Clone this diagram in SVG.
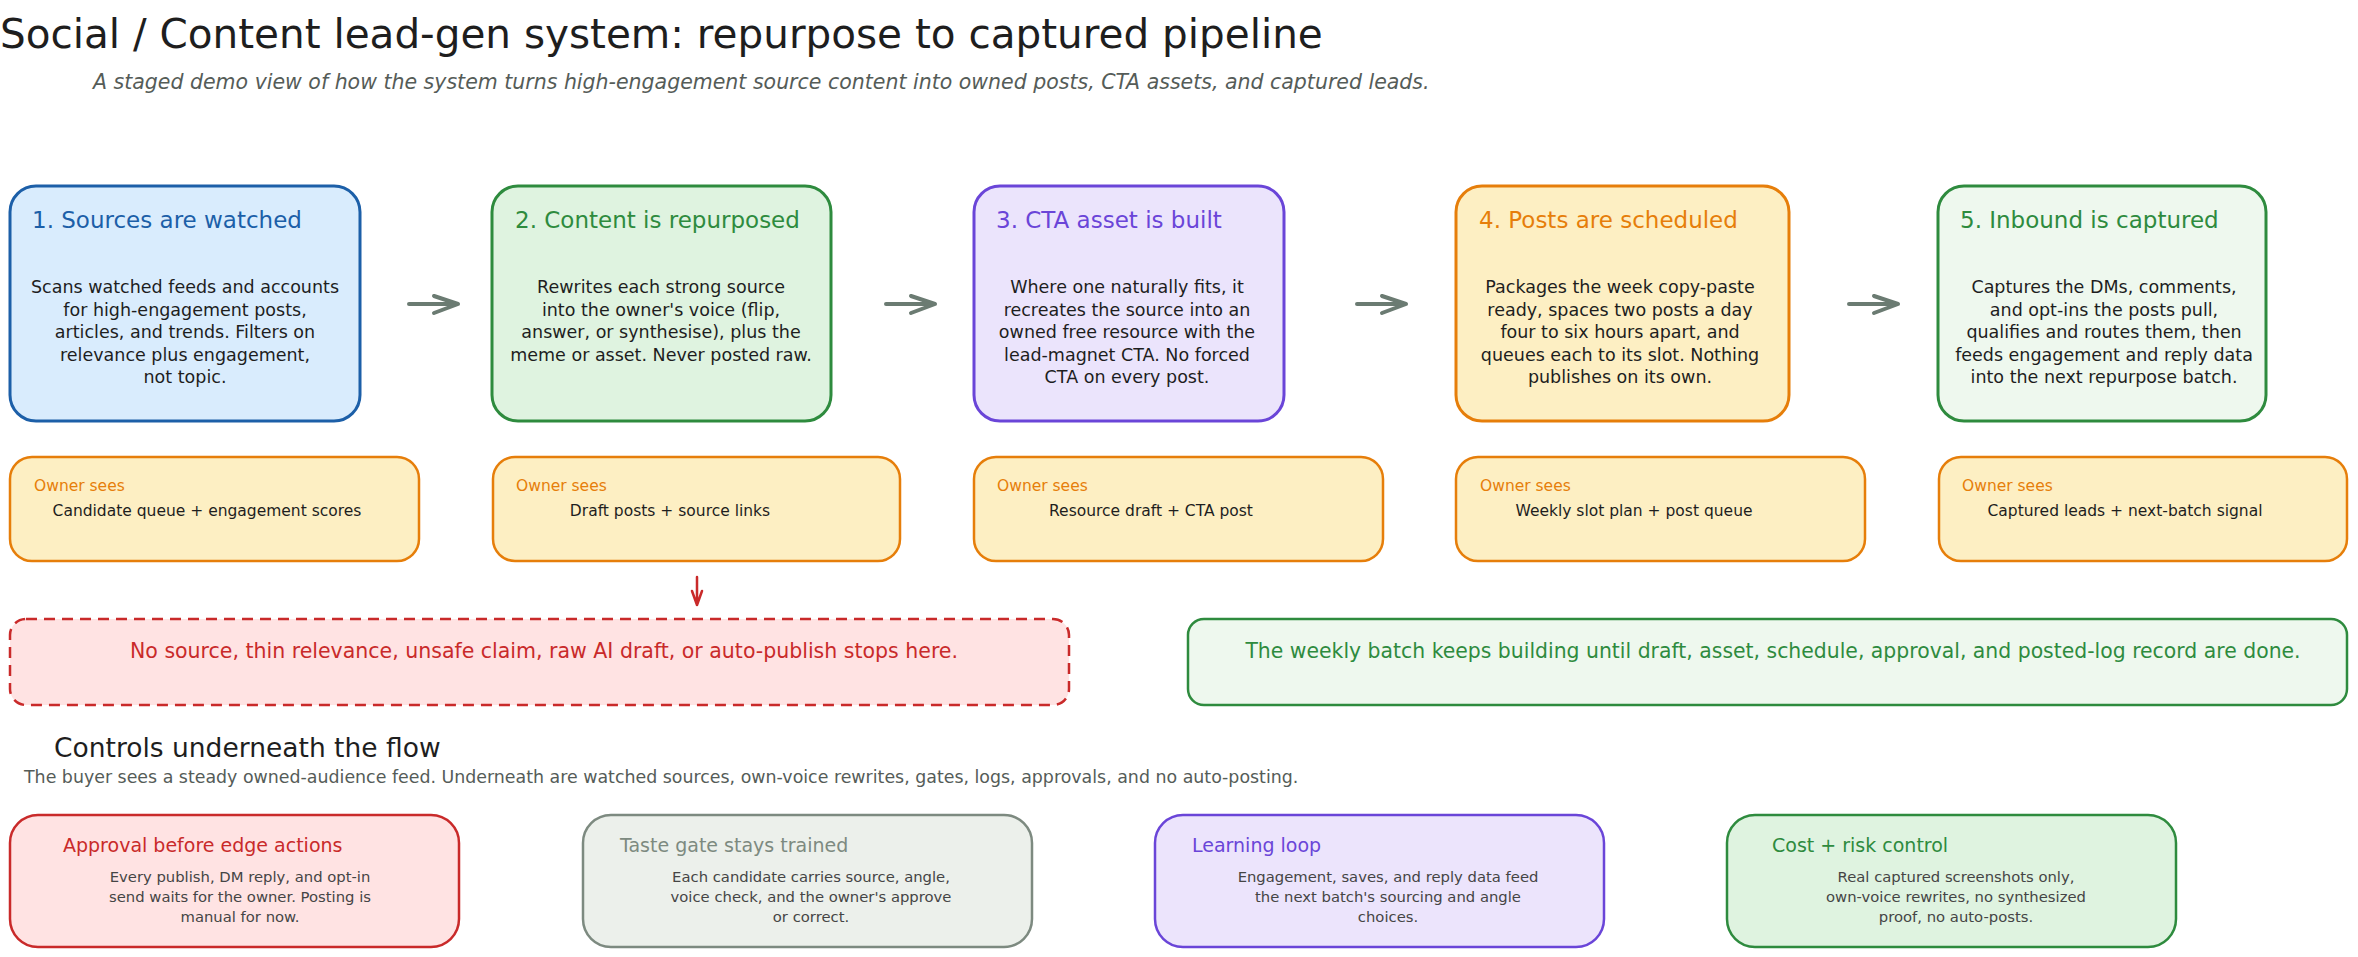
<svg xmlns="http://www.w3.org/2000/svg" width="2358" height="957" viewBox="0 0 2358 957">
<defs>
<style>
text{font-family:"DejaVu Sans","Liberation Sans",sans-serif;}
.title{font-size:40.5px;fill:#1e1e1e;}
.sub{font-size:20.5px;fill:#555c58;font-style:italic;}
.btitle{font-size:23px;}
.body{font-size:17.5px;fill:#1e1e1e;text-anchor:middle;}
.oslabel{font-size:15.5px;fill:#e67e0a;}
.osline{font-size:15.5px;fill:#1e1e1e;text-anchor:middle;}
.main{stroke-width:3;}
.owner{fill:#fdefc3;stroke:#e67e0a;stroke-width:2.5;}
.ctitle{font-size:19px;}
.cbody{font-size:14.8px;fill:#454545;text-anchor:middle;}
.ctl{stroke-width:2.5;}
.flow{stroke:#6b7b72;stroke-width:4;fill:none;stroke-linecap:round;stroke-linejoin:round;}
.stop{stroke:#c92a2a;stroke-width:2.5;fill:none;stroke-linecap:round;stroke-linejoin:round;}
</style>
</defs>
<rect width="2358" height="957" fill="#ffffff"/>

<g id="header">
<text class="title" x="0" y="48">Social / Content lead-gen system: repurpose to captured pipeline</text>
<text class="sub" x="93" y="89">A staged demo view of how the system turns high-engagement source content into owned posts, CTA assets, and captured leads.</text>
</g>

<g id="stage1">
<rect class="main" x="10" y="186" width="350" height="235" rx="26" fill="#d9ecfd" stroke="#1c5fa8"/>
<text class="btitle" x="32" y="228" fill="#1c5fa8">1. Sources are watched</text>
<text class="body" x="185" y="293">Scans watched feeds and accounts</text>
<text class="body" x="185" y="315.6">for high-engagement posts,</text>
<text class="body" x="185" y="338.2">articles, and trends. Filters on</text>
<text class="body" x="185" y="360.8">relevance plus engagement,</text>
<text class="body" x="185" y="383.4">not topic.</text>
</g>

<g id="stage2">
<rect class="main" x="492" y="186" width="339" height="235" rx="26" fill="#dff3e0" stroke="#2e8b3e"/>
<text class="btitle" x="515" y="228" fill="#2e8b3e">2. Content is repurposed</text>
<text class="body" x="661" y="293">Rewrites each strong source</text>
<text class="body" x="661" y="315.6">into the owner's voice (flip,</text>
<text class="body" x="661" y="338.2">answer, or synthesise), plus the</text>
<text class="body" x="661" y="360.8">meme or asset. Never posted raw.</text>
</g>

<g id="stage3">
<rect class="main" x="974" y="186" width="310" height="235" rx="26" fill="#ebe4fc" stroke="#6a45d8"/>
<text class="btitle" x="996" y="228" fill="#6a45d8">3. CTA asset is built</text>
<text class="body" x="1127" y="293">Where one naturally fits, it</text>
<text class="body" x="1127" y="315.6">recreates the source into an</text>
<text class="body" x="1127" y="338.2">owned free resource with the</text>
<text class="body" x="1127" y="360.8">lead-magnet CTA. No forced</text>
<text class="body" x="1127" y="383.4">CTA on every post.</text>
</g>

<g id="stage4">
<rect class="main" x="1456" y="186" width="333" height="235" rx="26" fill="#fdefc3" stroke="#e67e0a"/>
<text class="btitle" x="1479" y="228" fill="#e67e0a">4. Posts are scheduled</text>
<text class="body" x="1620" y="293">Packages the week copy-paste</text>
<text class="body" x="1620" y="315.6">ready, spaces two posts a day</text>
<text class="body" x="1620" y="338.2">four to six hours apart, and</text>
<text class="body" x="1620" y="360.8">queues each to its slot. Nothing</text>
<text class="body" x="1620" y="383.4">publishes on its own.</text>
</g>

<g id="stage5">
<rect class="main" x="1938" y="186" width="328" height="235" rx="26" fill="#eef8ee" stroke="#2e8b3e"/>
<text class="btitle" x="1960" y="228" fill="#2e8b3e">5. Inbound is captured</text>
<text class="body" x="2104" y="293">Captures the DMs, comments,</text>
<text class="body" x="2104" y="315.6">and opt-ins the posts pull,</text>
<text class="body" x="2104" y="338.2">qualifies and routes them, then</text>
<text class="body" x="2104" y="360.8">feeds engagement and reply data</text>
<text class="body" x="2104" y="383.4">into the next repurpose batch.</text>
</g>

<g id="owner1">
<rect class="owner" x="10" y="457" width="409" height="104" rx="22"/>
<text class="oslabel" x="34" y="491">Owner sees</text>
<text class="osline" x="207" y="516">Candidate queue + engagement scores</text>
</g>
<g id="owner2">
<rect class="owner" x="493" y="457" width="407" height="104" rx="22"/>
<text class="oslabel" x="516" y="491">Owner sees</text>
<text class="osline" x="670" y="516">Draft posts + source links</text>
</g>
<g id="owner3">
<rect class="owner" x="974" y="457" width="409" height="104" rx="22"/>
<text class="oslabel" x="997" y="491">Owner sees</text>
<text class="osline" x="1151" y="516">Resource draft + CTA post</text>
</g>
<g id="owner4">
<rect class="owner" x="1456" y="457" width="409" height="104" rx="22"/>
<text class="oslabel" x="1480" y="491">Owner sees</text>
<text class="osline" x="1634" y="516">Weekly slot plan + post queue</text>
</g>
<g id="owner5">
<rect class="owner" x="1939" y="457" width="408" height="104" rx="22"/>
<text class="oslabel" x="1962" y="491">Owner sees</text>
<text class="osline" x="2125" y="516">Captured leads + next-batch signal</text>
</g>

<g id="stop-gate">
<rect x="10" y="619" width="1059" height="86" rx="16" fill="#ffe3e3" stroke="#c92a2a" stroke-width="2.5" stroke-dasharray="11 7"/>
<text x="544" y="658" font-size="20.5px" fill="#c92a2a" text-anchor="middle">No source, thin relevance, unsafe claim, raw AI draft, or auto-publish stops here.</text>
</g>

<g id="batch-loop">
<rect x="1188" y="619" width="1159" height="86" rx="16" fill="#eef8ee" stroke="#2e8b3e" stroke-width="2.5"/>
<text x="1773" y="658" font-size="20.4px" fill="#2e8b3e" text-anchor="middle">The weekly batch keeps building until draft, asset, schedule, approval, and posted-log record are done.</text>
</g>

<g id="controls-header">
<text x="54" y="757" font-size="26.5px" fill="#1e1e1e">Controls underneath the flow</text>
<text x="24" y="783" font-size="17.4px" fill="#555c58">The buyer sees a steady owned-audience feed. Underneath are watched sources, own-voice rewrites, gates, logs, approvals, and no auto-posting.</text>
</g>

<g id="control-approval">
<rect class="ctl" x="10" y="815" width="449" height="132" rx="28" fill="#ffe3e3" stroke="#c92a2a"/>
<text class="ctitle" x="63" y="852" fill="#c92a2a">Approval before edge actions</text>
<text class="cbody" x="240" y="882">Every publish, DM reply, and opt-in</text>
<text class="cbody" x="240" y="902">send waits for the owner. Posting is</text>
<text class="cbody" x="240" y="922">manual for now.</text>
</g>

<g id="control-taste">
<rect class="ctl" x="583" y="815" width="449" height="132" rx="28" fill="#ecf0eb" stroke="#7d8a80"/>
<text class="ctitle" x="620" y="852" fill="#7d8a80">Taste gate stays trained</text>
<text class="cbody" x="811" y="882">Each candidate carries source, angle,</text>
<text class="cbody" x="811" y="902">voice check, and the owner's approve</text>
<text class="cbody" x="811" y="922">or correct.</text>
</g>

<g id="control-learning">
<rect class="ctl" x="1155" y="815" width="449" height="132" rx="28" fill="#ece4fc" stroke="#6a45d8"/>
<text class="ctitle" x="1192" y="852" fill="#6a45d8">Learning loop</text>
<text class="cbody" x="1388" y="882">Engagement, saves, and reply data feed</text>
<text class="cbody" x="1388" y="902">the next batch's sourcing and angle</text>
<text class="cbody" x="1388" y="922">choices.</text>
</g>

<g id="control-cost">
<rect class="ctl" x="1727" y="815" width="449" height="132" rx="28" fill="#dff3e0" stroke="#2e8b3e"/>
<text class="ctitle" x="1772" y="852" fill="#2e8b3e">Cost + risk control</text>
<text class="cbody" x="1956" y="882">Real captured screenshots only,</text>
<text class="cbody" x="1956" y="902">own-voice rewrites, no synthesized</text>
<text class="cbody" x="1956" y="922">proof, no auto-posts.</text>
</g>

<g id="connectors">
<path class="flow" d="M409,304 L458,304 M434,296 L458,304 L434,313"/>
<path class="flow" d="M886,304 L935,304 M911,296 L935,304 L911,313"/>
<path class="flow" d="M1357,304 L1406,304 M1382,296 L1406,304 L1382,313"/>
<path class="flow" d="M1849,304 L1898,304 M1874,296 L1898,304 L1874,313"/>
<path class="stop" d="M697,577 L697,605 M692,591 L697,605 L702,591"/>
</g>
</svg>
